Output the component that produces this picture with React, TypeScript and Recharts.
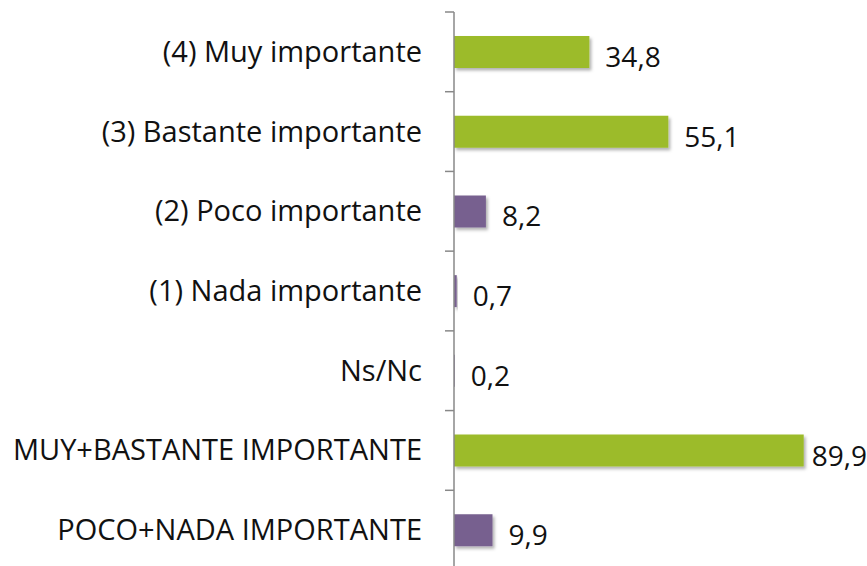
import React from "react";
import { BarChart, Bar, XAxis, YAxis, Cell, LabelList } from "recharts";

const categories = [
  "(4) Muy importante",
  "(3) Bastante importante",
  "(2) Poco importante",
  "(1) Nada importante",
  "Ns/Nc",
  "MUY+BASTANTE IMPORTANTE",
  "POCO+NADA IMPORTANTE",
];
const values = [34.8, 55.1, 8.2, 0.7, 0.2, 89.9, 9.9];
const positive = [true, true, false, false, false, true, false];

const GREEN = "#9CBB2B";
const PURPLE = "#77608F";
const FONT = "'Open Sans', 'Noto Sans', sans-serif";
const W = 867;
const H = 580;

const data = categories.map((name, i) => ({ name, value: values[i], pos: positive[i] }));

function CategoryTick(props: any) {
  const { x, y, payload, index, visibleTicksCount } = props;
  const half = payload?.offset ?? 40;
  return (
    <g>
      <line x1={x - 9} x2={x} y1={y - half} y2={y - half} stroke="#888" strokeWidth={1.5} />
      {index === visibleTicksCount - 1 && (
        <line x1={x - 9} x2={x} y1={y + half} y2={y + half} stroke="#888" strokeWidth={1.5} />
      )}
      <text x={x - 32} y={y} dy={10} textAnchor="end" fontFamily={FONT} fontSize={29} fill="#111">
        {payload.value}
      </text>
    </g>
  );
}

function ValueLabel(props: any) {
  const { x, y, width, height, value } = props;
  const txt = String(value).replace(".", ",");
  let lx = x + width + 16;
  let anchor: "start" | "end" = "start";
  if (lx + txt.length * 15 > W) {
    lx = W;
    anchor = "end";
  }
  return (
    <text x={lx} y={y + height / 2} dy={15} textAnchor={anchor} fontFamily={FONT} fontSize={28} fill="#111">
      {txt}
    </text>
  );
}

export default function App() {
  return (
    <div style={{ position: "absolute", left: 0, top: 0, width: W, height: 566, overflow: "hidden", background: "#fff" }}>
      <BarChart
        width={W}
        height={H}
        data={data}
        layout="vertical"
        margin={{ top: 12, right: 24, bottom: 10, left: 0 }}
      >
        <defs>
          <filter id="shadow" x="-10%" y="-30%" width="130%" height="180%">
            <feDropShadow dx="2" dy="2.5" stdDeviation="1.5" floodColor="#000" floodOpacity="0.3" />
          </filter>
        </defs>
        <XAxis type="number" domain={[0, 100]} hide />
        <YAxis
          type="category"
          dataKey="name"
          width={454}
          axisLine={{ stroke: "#888", strokeWidth: 1.5 }}
          tickLine={false}
          tickSize={0}
          tickMargin={0}
          tick={<CategoryTick />}
          interval={0}
        />
        <Bar dataKey="value" barSize={32} isAnimationActive={false}>
          {data.map((d, i) => (
            <Cell key={i} fill={d.pos ? GREEN : PURPLE} filter="url(#shadow)" />
          ))}
          <LabelList dataKey="value" content={<ValueLabel />} />
        </Bar>
      </BarChart>
    </div>
  );
}
